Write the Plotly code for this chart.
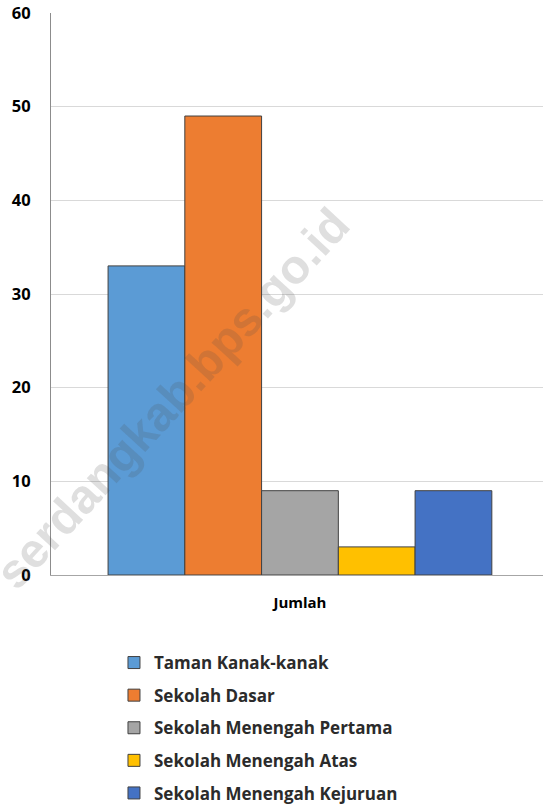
import plotly.graph_objects as go

categories = ["Jumlah"]
series_names = ["Taman Kanak-kanak", "Sekolah Dasar", "Sekolah Menengah Pertama",
                "Sekolah Menengah Atas", "Sekolah Menengah Kejuruan"]
series_values = [33, 49, 9, 3, 9]
colors = ["#5B9BD5", "#ED7D31", "#A5A5A5", "#FFC000", "#4472C4"]
y_ticks = [0, 10, 20, 30, 40, 50, 60]

fig = go.Figure()
for i, (name, val, col) in enumerate(zip(series_names, series_values, colors)):
    fig.add_trace(go.Bar(
        x=categories, y=[val], name=name, legendgroup=f"g{i}",
        marker=dict(color=col, line=dict(color="#404040", width=1)),
    ))

fig.update_layout(
    width=543, height=805,
    margin=dict(l=51, r=0, t=13, b=230),
    paper_bgcolor="white", plot_bgcolor="white",
    barmode="group", bargap=0.22, bargroupgap=0,
    font=dict(family="Open Sans", size=15, color="#000000"),
    showlegend=True,
    legend=dict(
        x=0.128, xanchor="left",
        yref="container", y=1 - 645 / 805, yanchor="top",
        font=dict(family="Open Sans", size=17, color="#2b2b2b", weight="bold"),
        tracegroupgap=7.5, traceorder="grouped",
        itemwidth=30,
    ),
    xaxis=dict(
        range=[-0.506, 0.494],
        showline=True, linecolor="#A6A6A6", linewidth=1,
        ticks="outside", ticklen=0, ticklabelstandoff=14,
        tickfont=dict(family="Open Sans", size=15, color="#000000", weight="bold"),
        fixedrange=True,
    ),
    yaxis=dict(
        range=[0, 60], tickvals=y_ticks, showgrid=True, gridcolor="#D9D9D9", gridwidth=1,
        showline=True, linecolor="#8C8C8C", linewidth=1, zeroline=False,
        ticks="outside", ticklen=0, ticklabelstandoff=16, ticklabeloverflow="allow",
        tickfont=dict(family="Open Sans", size=16.5, color="#000000", weight="bold"),
        fixedrange=True,
    ),
)

fig.add_annotation(
    text="serdangkab.bps.go.id", xref="paper", yref="paper",
    x=(172 - 51) / 492, y=(575 - 398) / 562, xanchor="center", yanchor="middle",
    showarrow=False, textangle=-47.4,
    font=dict(family="Liberation Sans", size=48, color="rgba(80,80,80,0.18)", weight="bold"),
)

fig.write_html("out.html", config={"displayModeBar": False},
               post_script="document.body.style.margin='0';")
